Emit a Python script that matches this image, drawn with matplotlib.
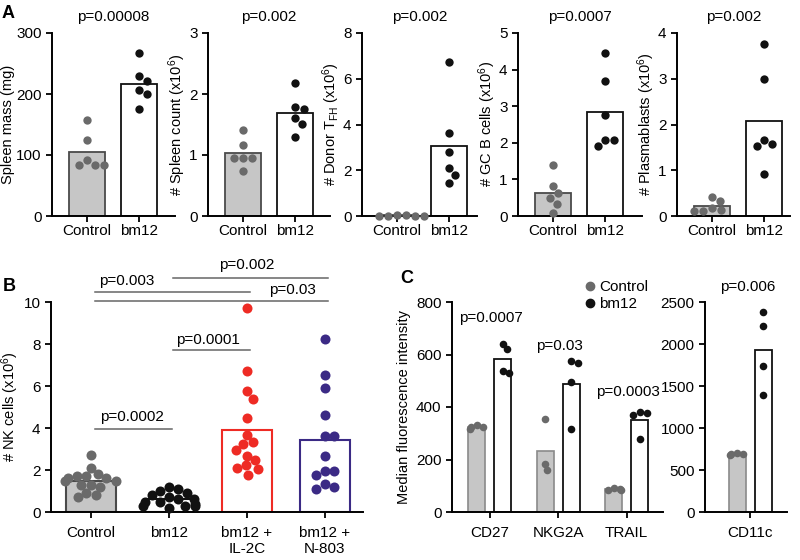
import matplotlib as mpl
import matplotlib.pyplot as plt
from matplotlib.lines import Line2D
import numpy as np

mpl.rcParams['font.family'] = ['Liberation Sans', 'DejaVu Sans']
mpl.rcParams['mathtext.fontset'] = 'custom'
mpl.rcParams['mathtext.rm'] = 'Liberation Sans'
mpl.rcParams['mathtext.it'] = 'Liberation Sans:italic'
mpl.rcParams['font.size'] = 11
mpl.rcParams['axes.linewidth'] = 1.4

# ---- panel A data
groups_a = ['Control', 'bm12']
mass_ctrl = [158, 124, 91, 84, 84, 84]
mass_bm12 = [267, 229, 222, 206, 200, 175]
count_ctrl = [1.41, 1.17, 0.95, 0.95, 0.95, 0.74]
count_bm12 = [2.18, 1.78, 1.75, 1.60, 1.51, 1.29]
tfh_ctrl = [0.03, 0.03, 0.02, 0.02, 0.02, 0.02]
tfh_bm12 = [6.74, 3.62, 2.80, 2.09, 1.80, 1.43]
gcb_ctrl = [1.40, 0.83, 0.62, 0.48, 0.33, 0.09]
gcb_bm12 = [4.45, 3.68, 2.76, 2.08, 2.08, 1.92]
pb_ctrl = [0.42, 0.33, 0.17, 0.13, 0.12, 0.10]
pb_bm12 = [3.76, 2.99, 1.66, 1.57, 1.54, 0.92]
pvals_a = ['p=0.00008', 'p=0.002', 'p=0.002', 'p=0.0007', 'p=0.002']
ylabels_a = ['Spleen mass (mg)', '# Spleen count (x10$^{6}$)',
             '# Donor T$_{\\mathrm{FH}}$ (x10$^{6}$)', '# GC B cells (x10$^{6}$)',
             '# Plasmablasts (x10$^{6}$)']
ymax_a = [300, 3, 8, 5, 4]
ystep_a = [100, 1, 2, 1, 1]

# ---- panel B data
groups_b = ['Control', 'bm12', 'bm12 +\nIL-2C', 'bm12 +\nN-803']
nk_ctrl = [2.7, 2.1, 1.8, 1.7, 1.7, 1.6, 1.6, 1.5, 1.5, 1.3, 1.3, 1.2, 0.9, 0.8, 0.7]
nk_bm12 = [1.2, 1.1, 1.0, 0.9, 0.8, 0.7, 0.6, 0.6, 0.5, 0.5, 0.4, 0.3, 0.3, 0.3, 0.2]
nk_il2c = [9.71, 6.70, 5.75, 5.40, 4.48, 3.68, 3.33, 3.25, 2.97, 2.67, 2.46, 2.22,
           2.11, 2.03, 1.78]
nk_n803 = [8.25, 6.54, 5.90, 4.60, 3.62, 3.62, 2.67, 1.94, 1.94, 1.78, 1.33, 1.19, 1.11]
# (group i, group j, line height, label)
comparisons_b = [(0, 1, 3.97, 'p=0.0002'), (1, 2, 7.73, 'p=0.0001'),
                 (0, 2, 10.48, 'p=0.003'), (0, 3, 10.05, 'p=0.03'),
                 (1, 3, 11.14, 'p=0.002')]

# ---- panel C data
markers_c = ['CD27', 'NKG2A', 'TRAIL']
mfi_ctrl = [[330, 325, 322, 318], [354, 183, 161], [90, 88, 85, 83]]
mfi_bm12 = [[640, 620, 537, 528], [575, 566, 497, 316], [382, 376, 370, 278]]
pvals_c = ['p=0.0007', 'p=0.03', 'p=0.0003']
cd11c_ctrl = [700, 692, 686, 680]
cd11c_bm12 = [2380, 2220, 1733, 1398]

GREY_PT = '#6a6a6a'
GREY_BAR = '#c6c6c6'
BLACK = '#111111'
RED = '#ee2b24'
PURPLE = '#3b2a85'

fig = plt.figure(figsize=(8, 5.6), dpi=100)


def px_axes(l, t, r, b):
    return fig.add_axes([l / 800, 1 - b / 560, (r - l) / 800, (b - t) / 560])


def swarm(vals, ypx, diam, maxw=None):
    placed = []
    out = []
    for v in vals:
        y = v * ypx
        cands = [0.0]
        for (qx, qy) in placed:
            dy = y - qy
            if abs(dy) < diam:
                dx = np.sqrt(diam ** 2 - dy ** 2)
                cands += [qx + dx, qx - dx]
        cands.sort(key=abs)
        chosen = 0.0
        for c in cands:
            if all((c - qx) ** 2 + (y - qy) ** 2 >= diam ** 2 - 1e-6 for qx, qy in placed):
                chosen = c
                break
        if maxw is not None:
            chosen = float(np.clip(chosen, -maxw, maxw))
        placed.append((chosen, y))
        out.append(chosen)
    return np.array(out)


def style(ax):
    for s in ['top', 'right']:
        ax.spines[s].set_visible(False)
    ax.tick_params(direction='out', length=4, width=1.3)


# ---- panel A
a_boxes = [(52, 175), (208, 330), (362, 477), (518, 642), (677, 790)]
a_data = [(mass_ctrl, mass_bm12), (count_ctrl, count_bm12), (tfh_ctrl, tfh_bm12),
          (gcb_ctrl, gcb_bm12), (pb_ctrl, pb_bm12)]
unit_a = 52
for k, (l, r) in enumerate(a_boxes):
    ax = px_axes(l, 33, r, 216)
    ctrl, bm = a_data[k]
    ypx = 183 / ymax_a[k]
    ax.bar([0, 1], [np.mean(ctrl), np.mean(bm)], width=0.69,
           color=[GREY_BAR, 'white'], edgecolor=['#4a4a4a', BLACK], linewidth=1.3, zorder=1)
    ax.scatter(0 + swarm(ctrl, ypx, 9) / unit_a, ctrl, s=36, color=GREY_PT, zorder=3,
               linewidths=0, clip_on=False)
    ax.scatter(1 + swarm(bm, ypx, 9) / unit_a, bm, s=36, color=BLACK, zorder=3,
               linewidths=0, clip_on=False)
    ax.set_xlim(-35 / unit_a, (r - l - 35) / unit_a)
    ax.set_ylim(0, ymax_a[k])
    ax.set_yticks(np.arange(0, ymax_a[k] + ystep_a[k] / 2, ystep_a[k]))
    ax.set_xticks([0, 1])
    ax.set_xticklabels(groups_a)
    ax.set_ylabel(ylabels_a[k], labelpad=1, fontsize=10.5)
    ax.set_title(pvals_a[k], fontsize=11, pad=9)
    style(ax)
    ax.tick_params(axis='x', pad=2)

# ---- panel B
axb = px_axes(51, 302, 363, 512)
unit_b = 78
ypx_b = 21
b_sets = [(nk_ctrl, GREY_PT, GREY_BAR, '#4a4a4a'), (nk_bm12, BLACK, 'white', BLACK),
          (nk_il2c, RED, 'white', RED), (nk_n803, PURPLE, 'white', PURPLE)]
for i, (vals, pc, fc, ec) in enumerate(b_sets):
    axb.bar(i, np.mean(vals), width=0.64, color=fc, edgecolor=ec, linewidth=1.5, zorder=1)
    axb.scatter(i + swarm(vals, ypx_b, 9.5, maxw=26) / unit_b, vals, s=52, color=pc,
                zorder=3, linewidths=0, clip_on=False)
for i, j, h, lab in comparisons_b:
    axb.plot([i + 0.05, j + 0.04], [h, h], color='#666666', lw=1.1, clip_on=False)
lab_pos_b = [(0.53, 4.5), (1.5, 8.2), (0.46, 11.0), (2.58, 10.55), (2.0, 11.75)]
for (i, j, h, lab), (tx, ty) in zip(comparisons_b, lab_pos_b):
    axb.text(tx, ty, lab, ha='center', va='center', fontsize=11)
axb.set_xlim(-0.51, 3.49)
axb.set_ylim(0, 10)
axb.set_yticks(range(0, 11, 2))
axb.set_xticks(range(4))
axb.set_xticklabels(groups_b)
axb.set_ylabel('# NK cells (x10$^{6}$)', labelpad=2, fontsize=10.5)
style(axb)
axb.tick_params(axis='x', pad=6)

# ---- panel C left
axc = px_axes(452, 302, 663, 512)
unit_c = 68.5
ypx_c = 210 / 800
off = 13 / unit_c
ptext_c = [740, 633, 457]
for i in range(3):
    axc.bar(i - off, np.mean(mfi_ctrl[i]), width=0.25, color=GREY_BAR, edgecolor='#8a8a8a',
            linewidth=1.2, zorder=1)
    axc.bar(i + off, np.mean(mfi_bm12[i]), width=0.25, color='white', edgecolor=BLACK,
            linewidth=1.3, zorder=1)
    axc.scatter(i - off + swarm(mfi_ctrl[i], ypx_c, 6, maxw=7) / unit_c, mfi_ctrl[i], s=30,
                color=GREY_PT, zorder=3, linewidths=0)
    axc.scatter(i + off + swarm(mfi_bm12[i], ypx_c, 7, maxw=7) / unit_c, mfi_bm12[i], s=30,
                color=BLACK, zorder=3, linewidths=0)
    axc.text(i + 0.02, ptext_c[i], pvals_c[i], ha='center', va='center', fontsize=11)
axc.set_xlim(-0.55, 2.53)
axc.set_ylim(0, 800)
axc.set_yticks(range(0, 801, 200))
axc.set_xticks(range(3))
axc.set_xticklabels(markers_c)
axc.set_ylabel('Median fluorescence intensity', fontsize=10.5)
style(axc)
axc.tick_params(axis='x', pad=6)
handles = [Line2D([], [], marker='o', ls='', color=GREY_PT, markersize=6),
           Line2D([], [], marker='o', ls='', color=BLACK, markersize=6)]
axc.legend(handles, ['Control', 'bm12'], loc='upper left',
           bbox_to_anchor=(585 / 800, 1 - 280 / 560), bbox_transform=fig.transFigure,
           frameon=False, handlelength=0.6, handletextpad=0.35, labelspacing=0.2,
           borderpad=0, borderaxespad=0, fontsize=11)

# ---- panel C right
axd = px_axes(705, 302, 787, 512)
ypx_d = 210 / 2500
axd.bar(-off, np.mean(cd11c_ctrl), width=0.25, color=GREY_BAR, edgecolor='#8a8a8a',
        linewidth=1.2, zorder=1)
axd.bar(off, np.mean(cd11c_bm12), width=0.25, color='white', edgecolor=BLACK,
        linewidth=1.3, zorder=1)
axd.scatter(-off + swarm(cd11c_ctrl, ypx_d, 6, maxw=7) / unit_c, cd11c_ctrl, s=30,
            color=GREY_PT, zorder=3, linewidths=0)
axd.scatter(off + swarm(cd11c_bm12, ypx_d, 7, maxw=7) / unit_c, cd11c_bm12, s=30,
            color=BLACK, zorder=3, linewidths=0)
axd.text(-0.04, 2680, 'p=0.006', ha='center', va='center', fontsize=11)
axd.set_xlim(-0.66, 0.54)
axd.set_ylim(0, 2500)
axd.set_yticks(range(0, 2501, 500))
axd.set_xticks([0])
axd.set_xticklabels(['CD11c'])
style(axd)
axd.tick_params(axis='x', pad=6)

# panel letters
fig.text(2 / 800, 1 - 18 / 560, 'A', fontsize=13, fontweight='bold')
fig.text(3 / 800, 1 - 291 / 560, 'B', fontsize=13, fontweight='bold')
fig.text(400 / 800, 1 - 283 / 560, 'C', fontsize=13, fontweight='bold')

fig.savefig('out.png', dpi=100)
